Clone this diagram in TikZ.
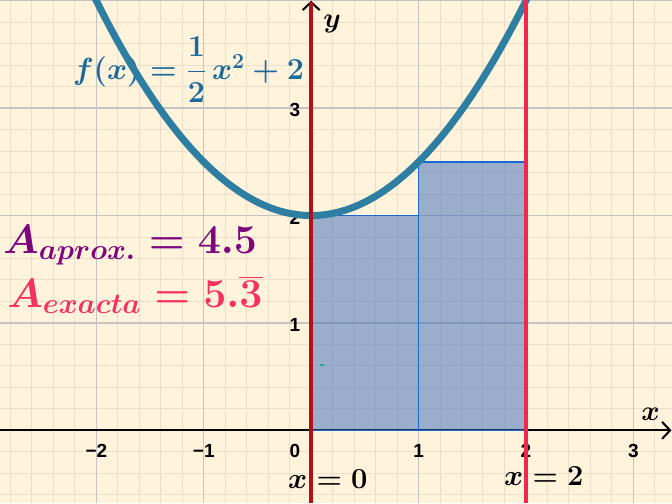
\RequirePackage{fix-cm}
\documentclass[tikz,border=0pt]{standalone}
\usepackage{amsmath}
\usepackage{fontspec}
\newfontfamily\tickfont{Liberation Sans}
\usetikzlibrary{arrows.meta}
\definecolor{bgc}{RGB}{255,243,220}
\definecolor{minorc}{RGB}{236,222,202}
\definecolor{majorc}{RGB}{196,196,196}
\definecolor{curvec}{RGB}{46,126,162}
\definecolor{flabel}{RGB}{25,105,155}
\definecolor{rectfill}{RGB}{55,105,185}
\definecolor{rectedge}{RGB}{25,105,210}
\definecolor{darkredc}{RGB}{180,16,24}
\definecolor{brightredc}{RGB}{240,40,80}
\definecolor{purplec}{RGB}{125,5,125}
\definecolor{pinkc}{RGB}{245,50,95}
\definecolor{dashc}{RGB}{38,166,140}
\newcommand\fsA{\boldmath\fontsize{41}{41}\selectfont}
\newcommand\fsB{\boldmath\fontsize{29}{29}\selectfont}
\newcommand\fsC{\boldmath\fontsize{28}{28}\selectfont}
\newcommand\fsD{\boldmath\fontsize{30.5}{30.5}\selectfont}
\newcommand\fsT{\tickfont\bfseries\fontsize{19}{19}\selectfont}
\tikzset{
  minorgrid/.style={draw=minorc,line width=1pt},
  majorgrid/.style={draw=majorc,line width=1.4pt},
  axisline/.style={draw=black,line width=2pt,-{Straight Barb[length=8pt,width=17pt,line width=2pt]}},
  sumrect/.style={fill=rectfill,fill opacity=0.5,draw=rectedge,line width=1.6pt,draw opacity=1},
  ticklab/.style={inner sep=0pt,font=\fsT},
  mathlab/.style={inner sep=0pt,anchor=base west},
  bigA/.style={mathlab,font=\fsA},
  axname/.style={mathlab,font=\fsC},
  vlab/.style={mathlab,font=\fsB},
  flabstyle/.style={mathlab,font=\fsD,text=flabel},
  vline/.style={line width=4pt}
}
\begin{document}
\begin{tikzpicture}[x=107.4pt,y=107.4pt]
\useasboundingbox (-2.897,-0.677) rectangle (3.360,4.007);
\fill[bgc] (-2.897,-0.677) rectangle (3.360,4.007);
\draw[minorgrid] (-2.897,-0.677) grid[step=0.2] (3.360,4.007);
\draw[majorgrid] (-2.897,-0.677) grid[step=1] (3.360,4.007);
% named points
\coordinate (xl) at (-2.897,0);
\coordinate (xr) at (3.355,0);
\coordinate (yb) at (0,-0.677);
\coordinate (yt) at (0,4.0);
% axes
\draw[axisline] (xl) -- (xr);
\draw[axisline] (yb) -- (yt);
% rectangles
\draw[sumrect] (0,0) rectangle (1,2);
\draw[sumrect] (1,0) rectangle (2,2.5);
% tick labels
\node[ticklab] (tm2) at (-2,-0.188) {−2};
\node[ticklab] (tm1) at (-1,-0.188) {−1};
\node[ticklab] (t0) at (-0.15,-0.188) {0};
\node[ticklab] (t1) at (1,-0.188) {1};
\node[ticklab] (t2) at (2,-0.188) {2};
\node[ticklab] (t3) at (3,-0.188) {3};
\node[ticklab] (u1) at (-0.15,0.98) {1};
\node[ticklab] (u2) at (-0.15,1.98) {2};
\node[ticklab] (u3) at (-0.15,2.98) {3};
% axis names
\node[axname] (ylab) at (0.111,3.750) {$y$};
\node[axname] (xlab) at (3.072,0.093) {$x$};
% labels
\node[flabstyle] (flab) at (-2.219,3.266) {$f(x)=\dfrac{1}{2}\,x^2+2$};
\node[bigA,text=purplec] (aap) at (-2.869,1.645) {$A_{aprox.}=4.5$};
\node[bigA,text=pinkc] (aex) at (-2.831,1.148) {$A_{exacta}=5.\overline{3}$};
\node[vlab] (x0lab) at (-0.215,-0.537) {$x=0$};
\node[vlab] (x2lab) at (1.796,-0.509) {$x=2$};
% curve
\begin{scope}
\clip (-2.897,-0.677) rectangle (3.360,4.007);
\draw[curvec,line width=7pt,domain=-2.1:2.1,samples=120,smooth] plot (\x,{0.5*\x*\x+2});
\end{scope}
% small mark
\draw[dashc,line width=2pt] (0.085,0.608) -- (0.12,0.608);
% vertical lines
\draw[vline,darkredc] (0,-0.677) -- (0,3.985);
\draw[vline,brightredc] (2,-0.677) -- (2,4.007);
\end{tikzpicture}
\end{document}
